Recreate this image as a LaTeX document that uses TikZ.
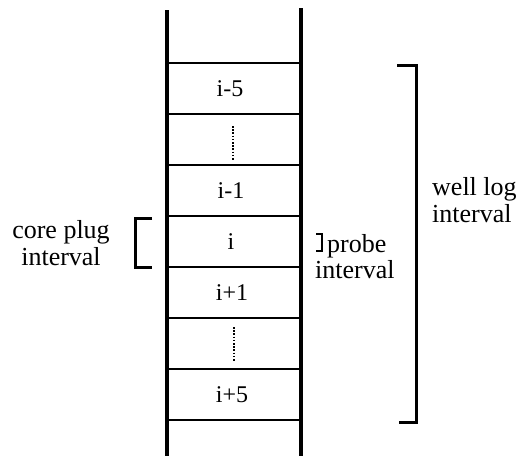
\documentclass[tikz,border=0pt]{standalone}
\usepackage{fontspec}
\setmainfont{Liberation Serif}
\begin{document}
\begin{tikzpicture}[x=1pt,y=-1pt,
  wall/.style={line width=3.2pt},
  sep/.style={line width=2.8pt},
  brk/.style={line width=3pt},
  cell/.style={font=\fontsize{24}{24}\selectfont, inner sep=0pt},
  side/.style={font=\fontsize{26}{27}\selectfont, inner sep=0pt, align=left},
  dots/.style={line width=2.4pt, dash pattern=on 1.6pt off 1.6pt}]
\useasboundingbox (0,0) rectangle (522,456);
% walls
\coordinate (lt) at (167,10);
\coordinate (lb) at (167,456);
\coordinate (rt) at (301,8);
\coordinate (rb) at (301,456);
\draw[wall] (lt) -- (lb);
\draw[wall] (rt) -- (rb);
% separators
\foreach \y in {63,114,165,216,267,318,369,420}{
  \draw[sep] (167,\y) -- (301,\y);
}
% cell labels
\node[cell] (c1) at (230,89) {i-5};
\node[cell] (c3) at (231,191) {i-1};
\node[cell] (c4) at (231,242) {i};
\node[cell] (c5) at (232,293) {i+1};
\node[cell] (c7) at (232,395) {i+5};
% dotted marks
\coordinate (d1a) at (233,126);
\coordinate (d1b) at (233,160);
\coordinate (d2a) at (234,327);
\coordinate (d2b) at (234,361);
\draw[dots] (d1a) -- (d1b);
\draw[dots] (d2a) -- (d2b);
% core plug bracket
\coordinate (cp1) at (152,218);
\coordinate (cp2) at (135,218);
\coordinate (cp3) at (135,267);
\coordinate (cp4) at (152,267);
\draw[brk] (cp1) -- (cp2) -- (cp3) -- (cp4);
\node[side, align=center] (cpl) at (61,243) {core plug\\interval};
% probe bracket
\coordinate (pb1) at (316,234);
\coordinate (pb2) at (322,234);
\coordinate (pb3) at (322,251);
\coordinate (pb4) at (316,251);
\draw[line width=2.4pt] (pb1) -- (pb2) -- (pb3) -- (pb4);
\node[side, anchor=base west] (pr1) at (327,252) {probe};
\node[side, anchor=base west] (pr2) at (315,278) {interval};
% well log bracket
\coordinate (wl1) at (397,65);
\coordinate (wl2) at (416,65);
\coordinate (wl3) at (416,422);
\coordinate (wl4) at (399,422);
\draw[brk] (wl1) -- (wl2) -- (wl3) -- (wl4);
\node[side, anchor=west] (wl) at (432,200) {well log\\interval};
\end{tikzpicture}
\end{document}
